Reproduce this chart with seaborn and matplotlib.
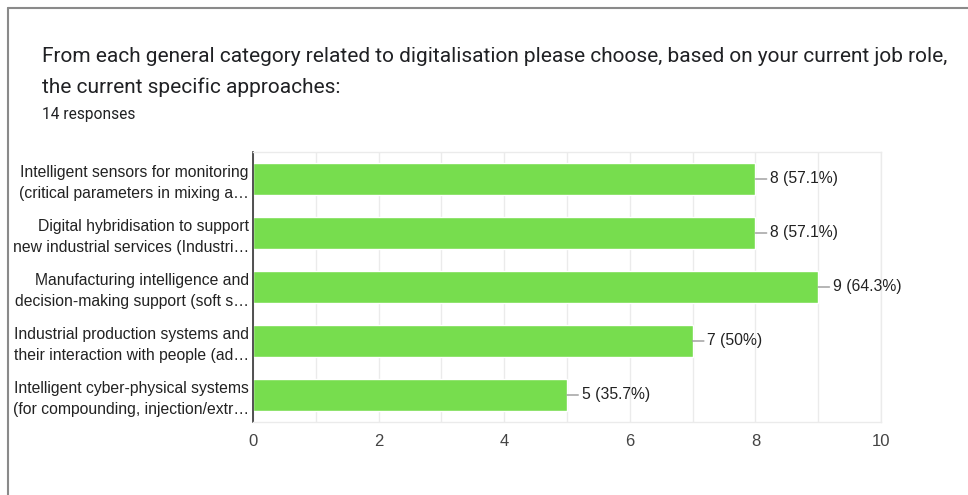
import matplotlib
matplotlib.use("Agg")
import matplotlib.pyplot as plt
import seaborn as sns
import pandas as pd
from matplotlib.lines import Line2D
from matplotlib.ticker import MultipleLocator

# data
labels = [
    "Intelligent sensors for monitoring\n(critical parameters in mixing a\u2026",
    "Digital hybridisation to support\nnew industrial services (Industri\u2026",
    "Manufacturing intelligence and\ndecision-making support (soft s\u2026",
    "Industrial production systems and\ntheir interaction with people (ad\u2026",
    "Intelligent cyber-physical systems\n(for compounding, injection/extr\u2026",
]
counts = [8, 8, 9, 7, 5]
pct_text = ["57.1%", "57.1%", "64.3%", "50%", "35.7%"]
title_lines = [
    "From each general category related to digitalisation please choose, based on your current job role,",
    "the current specific approaches:",
]
subtitle = "14 responses"

df = pd.DataFrame({"label": labels, "count": counts})

sns.set_style("white")
plt.rcParams["font.family"] = ["Liberation Sans", "DejaVu Sans"]

fig = plt.figure(figsize=(9.68, 4.95), dpi=100)
ax = fig.add_axes([253 / 968, 1 - 422 / 495, (881 - 253) / 968, (422 - 152) / 495])

sns.barplot(data=df, x="count", y="label", orient="h", color="#77dd4e",
            saturation=1, width=0.6, ax=ax)

ax.set_xlim(0, 10)
ax.set_ylim(4.5, -0.5)
ax.xaxis.set_major_locator(MultipleLocator(2))
ax.xaxis.set_minor_locator(MultipleLocator(1))
ax.grid(True, axis="x", which="both", color="#ebebeb", lw=1)
ax.set_axisbelow(True)
ax.set_xlabel("")
ax.set_ylabel("")
for s in ["top", "right", "bottom"]:
    ax.spines[s].set_color("#ebebeb")
    ax.spines[s].set_linewidth(1)
ax.spines["left"].set_color("#333333")
ax.spines["left"].set_linewidth(1.2)
ax.tick_params(axis="x", which="both", length=0, pad=9, labelsize=12, labelcolor="#444444")
ax.tick_params(axis="y", length=0, pad=3, labelsize=11.3, labelcolor="#222222")
for t in ax.get_yticklabels():
    t.set_horizontalalignment("right")
    t.set_linespacing(1.45)

# value labels with short leader lines
for i, (c, p) in enumerate(zip(counts, pct_text)):
    ax.annotate(f"{c} ({p})", xy=(c, i), xytext=(10.5, 0), textcoords="offset points",
                va="center", ha="left", fontsize=11.3, color="#222222",
                arrowprops=dict(arrowstyle="-", color="#999999", lw=1,
                                shrinkA=0, shrinkB=0))

for k, line in enumerate(title_lines):
    fig.text(42 / 968, 1 - (56 + 31 * k) / 495, line, fontsize=15,
             family=["Roboto", "DejaVu Sans"], color="#202124", va="center", ha="left")
fig.text(42 / 968, 1 - 115 / 495, subtitle, fontsize=11.2, family=["Roboto", "DejaVu Sans"],
         color="#202124", va="center", ha="left")

# card border (top and left edges visible)
fig.add_artist(Line2D([8 / 968, 1], [1 - 8 / 495, 1 - 8 / 495], transform=fig.transFigure,
                      color="#8a8a8a", lw=1.5))
fig.add_artist(Line2D([8 / 968, 8 / 968], [0, 1 - 8 / 495], transform=fig.transFigure,
                      color="#8a8a8a", lw=1.5))

fig.savefig("out.png", dpi=100, facecolor="white")
